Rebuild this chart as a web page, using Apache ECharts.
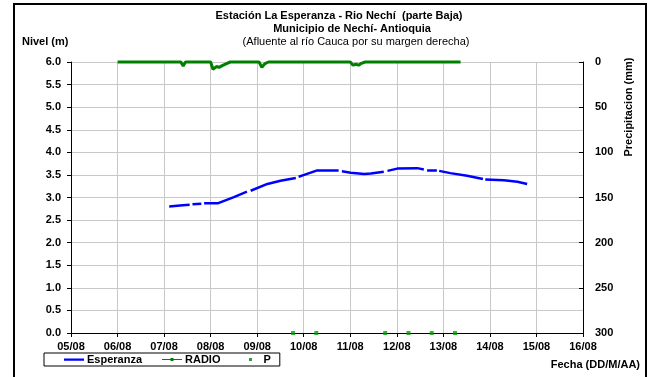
<!DOCTYPE html>
<html>
<head>
<meta charset="utf-8">
<script src="https://cdn.jsdelivr.net/npm/echarts@6/dist/echarts.min.js"></script>
<style>
html,body{margin:0;padding:0;background:#fff;}
#chart{width:648px;height:377px;}
</style>
</head>
<body>
<div id="chart"></div>
<script>
// X tick labels (day offset 0 = 05/08)
const xLabels = ['05/08','06/08','07/08','08/08','09/08','10/08','11/08','12/08','13/08','14/08','15/08','16/08'];

// Esperanza level (m); null = gap in record
const espDay   = [2.11,2.40,2.55,2.58,2.61,2.80,2.83,2.86,3.15,3.50,3.78,3.82,3.86,4.22,4.50,4.83,4.86,4.89,5.01,5.29,5.75,5.79,5.82,6.01,6.30,6.44,6.72,6.76,6.80,7.01,7.44,7.58,7.61,7.65,7.86,7.89,7.91,8.15,8.51,8.85,8.87,8.90,9.30,9.59,9.80];
const espLevel = [2.80,2.83,2.84,null,2.85,2.86,null,2.87,2.87,3.01,3.13,null,3.15,3.30,3.37,3.43,null,3.46,3.50,3.60,3.60,null,3.58,3.55,3.52,3.53,3.57,null,3.59,3.64,3.65,3.62,null,3.60,3.60,null,3.59,3.54,3.48,3.41,null,3.40,3.38,3.35,3.30];

// RADIO precipitation (mm)
const radioDay = [1.00,2.36,2.41,2.46,3.00,3.05,3.09,3.13,3.18,3.25,3.33,3.42,4.04,4.10,4.16,4.24,6.00,6.06,6.12,6.18,6.24,6.32,8.37];
const radioMm  = [0,0,4.5,0,0,8,8,5,6,4,2,0,0,6,2,0,0,3.5,2.5,3.5,1.5,0,0];

// P readings
const pDay = [4.77,5.27,6.75,7.25,7.75,8.25];
const pVal = [0,0,0,0,0,0];

const chart = echarts.init(document.getElementById('chart'));
const font = 'Liberation Sans, Arial, sans-serif';

chart.setOption({
  animation: false,
  backgroundColor: '#fff',
  textStyle: { fontFamily: font },
  grid: { left: 71, right: 65, top: 62, bottom: 44, containLabel: false },
  xAxis: {
    type: 'value', min: 0, max: 11, interval: 1,
    axisLine: { show: true, lineStyle: { color: '#000', width: 1 } },
    axisTick: { show: true, inside: false, length: 4, lineStyle: { color: '#000' } },
    axisLabel: { color: '#000', fontWeight: 'bold', fontSize: 11, fontFamily: font, margin: 8,
      formatter: v => xLabels[Math.round(v)] },
    splitLine: { show: true, lineStyle: { color: '#c8c8c8', width: 1 } }
  },
  yAxis: [
    {
      type: 'value', min: 0, max: 6, interval: 0.5,
      axisLine: { show: true, lineStyle: { color: '#000', width: 1 } },
      axisTick: { show: true, inside: false, length: 4, lineStyle: { color: '#000' } },
      axisLabel: { color: '#000', fontWeight: 'bold', fontSize: 11, fontFamily: font, margin: 10,
        formatter: v => v.toFixed(1) },
      splitLine: { show: true, lineStyle: { color: '#c8c8c8', width: 1 } }
    },
    {
      type: 'value', min: 0, max: 300, interval: 50, inverse: true, position: 'right',
      axisLine: { show: true, lineStyle: { color: '#000', width: 1 } },
      axisTick: { show: true, inside: true, length: 4, lineStyle: { color: '#000' } },
      axisLabel: { color: '#000', fontWeight: 'bold', fontSize: 11, fontFamily: font, margin: 12 },
      splitLine: { show: false }
    }
  ],
  legend: {
    left: 44, top: 353,
    orient: 'horizontal',
    borderColor: '#000', borderWidth: 1, borderRadius: 0,
    padding: [1, 9, 1, 20],
    itemGap: 20, itemWidth: 20, itemHeight: 4,
    symbolKeepAspect: false,
    textStyle: { color: '#000', fontWeight: 'bold', fontSize: 11, fontFamily: font, padding: [0,0,0,-2] },
    data: [
      { name: 'Esperanza', icon: 'path://M0,0L0.01,0L0.01,0.01Z M0,1L20,1L20,3.2L0,3.2Z M19.99,3.99L20,3.99L20,4Z', itemStyle: { color: '#0000ff' } },
      { name: 'RADIO', icon: 'path://M0,1.5L20,1.5L20,2.5L0,2.5Z M8.5,0.5L11.5,0.5L11.5,3.5L8.5,3.5Z M0,0L0.01,0L0.01,0.01Z M19.99,3.99L20,3.99L20,4Z', itemStyle: { color: '#008000' } },
      { name: 'P', icon: 'path://M8.5,0.5L11.5,0.5L11.5,3.5L8.5,3.5Z M0,0L0.01,0L0.01,0.01Z M19.99,3.99L20,3.99L20,4Z', itemStyle: { color: '#008000' } }
    ]
  },
  series: [
    {
      name: 'Esperanza', type: 'line', yAxisIndex: 0, symbol: 'none',
      connectNulls: false, clip: false,
      lineStyle: { color: '#0000ff', width: 2.5 }, itemStyle: { color: '#0000ff' },
      data: espDay.map((d, i) => [d, espLevel[i] === null ? '-' : espLevel[i]]),
      z: 3
    },
    {
      name: 'RADIO', type: 'line', yAxisIndex: 1, symbol: 'none', clip: false,
      lineStyle: { color: '#008000', width: 3 }, itemStyle: { color: '#008000' },
      data: radioDay.map((d, i) => [d, radioMm[i]]),
      z: 4
    },
    {
      name: 'P', type: 'scatter', yAxisIndex: 0, symbol: 'rect', symbolSize: 4, clip: false,
      itemStyle: { color: '#00a000' },
      data: pDay.map((d, i) => [d, pVal[i]]),
      z: 5
    }
  ],
  graphic: [
    { type: 'rect', shape: { x: 14, y: 4, width: 632, height: 380 }, style: { fill: 'none', stroke: '#000', lineWidth: 2 }, silent: true },
    { type: 'text', x: 339, y: 16, style: { text: 'Estación La Esperanza - Rio Nechí  (parte Baja)', font: 'bold 11px ' + font, fill: '#000', textAlign: 'center', textVerticalAlign: 'middle' } },
    { type: 'text', x: 352, y: 29, style: { text: 'Municipio de Nechí- Antioquia', font: 'bold 11px ' + font, fill: '#000', textAlign: 'center', textVerticalAlign: 'middle' } },
    { type: 'text', x: 356, y: 42, style: { text: '(Afluente al río Cauca por su margen derecha)', font: '11px ' + font, fill: '#000', textAlign: 'center', textVerticalAlign: 'middle' } },
    { type: 'text', x: 22, y: 42, style: { text: 'Nivel (m)', font: 'bold 11px ' + font, fill: '#000', textAlign: 'left', textVerticalAlign: 'middle' } },
    { type: 'text', x: 629, y: 107, rotation: Math.PI / 2, style: { text: 'Precipitacion (mm)', font: 'bold 11px ' + font, fill: '#000', textAlign: 'center', textVerticalAlign: 'middle' } },
    { type: 'text', x: 640, y: 365, style: { text: 'Fecha (DD/M/AA)', font: 'bold 11px ' + font, fill: '#000', textAlign: 'right', textVerticalAlign: 'middle' } }
  ]
});
</script>
</body>
</html>
